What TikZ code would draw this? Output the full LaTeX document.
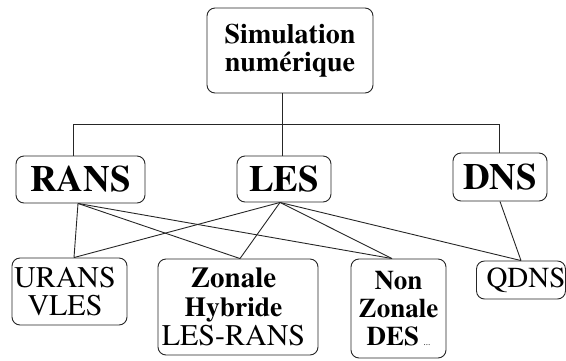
\documentclass[tikz,border=0pt]{standalone}
\usepackage{fontspec}
\setmainfont{texgyretermes}[Extension=.otf,UprightFont=*-regular,BoldFont=*-bold,ItalicFont=*-italic,BoldItalicFont=*-bolditalic]
\begin{document}
\begin{tikzpicture}[x=1pt,y=-1pt,
  box/.style={draw=black!85,line width=0.9pt,rounded corners=8pt,fill=white,inner sep=0pt,align=center},
  link/.style={draw=black!85,line width=0.9pt}]
\useasboundingbox (0,0) rectangle (566,360);
\node[box,minimum width=166pt,minimum height=85pt,font=\fontsize{28}{27.5}\selectfont\bfseries] (sim) at (290,50.5) {Simulation\\num\'erique};
\node[box,minimum width=129pt,minimum height=47pt,font=\fontsize{37}{37}\selectfont\bfseries] (rans) at (80.5,179.5) {RANS};
\node[box,minimum width=94pt,minimum height=46pt,font=\fontsize{37}{37}\selectfont\bfseries] (les) at (284,179) {LES};
\node[box,minimum width=94pt,minimum height=48pt,font=\fontsize{37}{37}\selectfont\bfseries] (dns) at (500,177) {DNS};
\node[box,minimum width=115pt,minimum height=67pt,font=\fontsize{30}{28}\selectfont] (urans) at (69.5,291.5) {\hspace*{-9pt}URANS\\\hspace*{-9pt}VLES};
\node[box,minimum width=160pt,minimum height=96pt,font=\fontsize{30}{29}\selectfont] (zon) at (238,307) {\hspace*{-9pt}\textbf{\fontsize{29}{29}\selectfont Zonale}\\\hspace*{-9pt}\textbf{\fontsize{27.5}{29}\selectfont Hybride}\\\hspace*{-9pt}LES-RANS};
\node[box,minimum width=95pt,minimum height=99pt,font=\fontsize{27}{28}\selectfont\bfseries] (nz) at (398.5,308.5) {Non\\Zonale\\DES\,{\mdseries\fontsize{9}{9}\selectfont...}};
\node[box,minimum width=88pt,minimum height=38pt,font=\fontsize{29}{29}\selectfont] (q) at (521,280) {\hspace*{10pt}QDNS};
\coordinate (j) at (282,124);
\coordinate (jl) at (73,124);
\coordinate (jr) at (499,124);
\draw[link] (sim.south -| j) -- (j);
\draw[link] (jl) -- (jr);
\draw[link] (jl) -- (jl |- rans.north);
\draw[link] (j) -- (j |- les.north);
\draw[link] (jr) -- (jr |- dns.north);
\coordinate (rb) at ([xshift=-2.5pt]rans.south);
\coordinate (lb) at ([xshift=-4pt]les.south);
\coordinate (ut) at ([xshift=4.5pt]urans.north);
\coordinate (zt) at ([xshift=2pt]zon.north);
\coordinate (nt) at ([xshift=-6.5pt]nz.north);
\draw[link] (rb) -- (ut);
\draw[link] (rb) -- (zt);
\draw[link] (rb) -- (nt);
\draw[link] (lb) -- (ut);
\draw[link] (lb) -- (zt);
\draw[link] (lb) -- (nt);
\draw[link] (lb) -- (q.north);
\draw[link] (dns.south) -- (q.north);
\end{tikzpicture}
\end{document}
